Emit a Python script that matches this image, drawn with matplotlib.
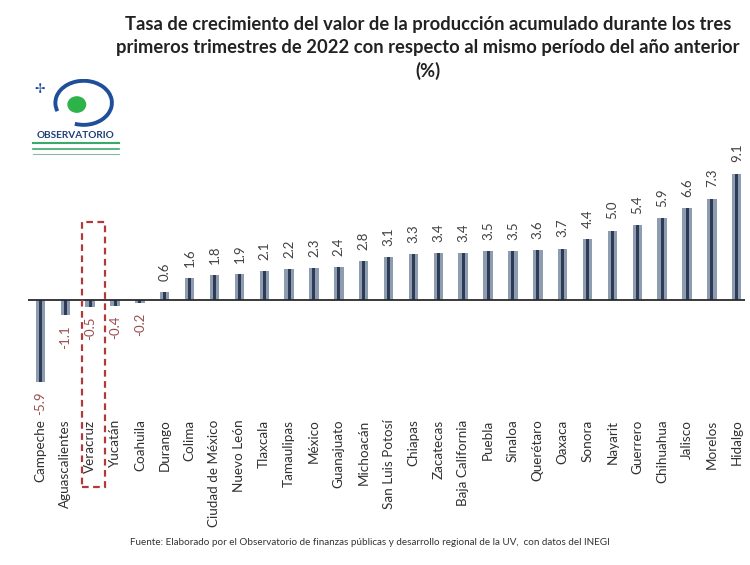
import matplotlib
matplotlib.use("Agg")
import matplotlib.pyplot as plt
from matplotlib.patches import Rectangle, Circle, Arc

plt.rcParams['font.family'] = ['Lato', 'DejaVu Sans']

states = ["Campeche", "Aguascalientes", "Veracruz", "Yucatán", "Coahuila", "Durango",
          "Colima", "Ciudad de México", "Nuevo León", "Tlaxcala", "Tamaulipas", "México",
          "Guanajuato", "Michoacán", "San Luis Potosí", "Chiapas", "Zacatecas",
          "Baja California", "Puebla", "Sinaloa", "Querétaro", "Oaxaca", "Sonora",
          "Nayarit", "Guerrero", "Chihuahua", "Jalisco", "Morelos", "Hidalgo"]
values = [-5.9, -1.1, -0.5, -0.4, -0.2, 0.6, 1.6, 1.8, 1.9, 2.1, 2.2, 2.3, 2.4, 2.8,
          3.1, 3.3, 3.4, 3.4, 3.5, 3.5, 3.6, 3.7, 4.4, 5.0, 5.4, 5.9, 6.6, 7.3, 9.1]
highlight = "Veracruz"

title = ("Tasa de crecimiento del valor de la producción acumulado durante los tres\n"
         "primeros trimestres de 2022 con respecto al mismo período del año anterior\n(%)")
source = ("Fuente: Elaborado por el Observatorio de finanzas públicas y desarrollo regional "
          "de la UV,  con datos del INEGI")

fig = plt.figure(figsize=(7.5, 5.65), dpi=100)
ax = fig.add_axes([0.0373, 0.2845, 0.956, 0.4206])
x = list(range(len(states)))

ax.bar(x, values, width=0.38, color="#8e9cb0", zorder=2)
ax.bar(x, values, width=0.12, color="#2d3b56", zorder=3)
ax.axhline(0, color="#2a2a2a", lw=1.3, zorder=4)

for xi, v in zip(x, values):
    if v >= 0:
        ax.annotate(f"{v:.1f}", (xi, v), xytext=(0, 8), textcoords="offset points",
                    rotation=90, ha="center", va="bottom", fontsize=9.5, color="#404040")
    else:
        ax.annotate(f"{v:.1f}", (xi, v), xytext=(0, -7), textcoords="offset points",
                    rotation=90, ha="center", va="top", fontsize=9.5, color="#9a4e4e")

ax.set_xlim(-0.5, 28.33)
ax.set_ylim(-7.5, 9.6)
ax.set_xticks(x)
ax.set_xticklabels(states, rotation=90, fontsize=9.7, color="#303030")
ax.tick_params(axis="x", length=0, pad=11)
ax.set_yticks([])
for s in ax.spines.values():
    s.set_visible(False)

hi = states.index(highlight)
ax.add_patch(Rectangle((hi - 0.32, -13.45), 0.92, 13.45 + 5.6, fill=False,
                       ec="#b03a3a", lw=1.6, ls=(0, (3, 2)), clip_on=False, zorder=5))

fig.text(0.571, 0.972, title, ha="center", va="top", fontsize=13.2, fontweight="bold",
         color="#222222", linespacing=1.42)
fig.text(0.493, 0.039, source, ha="center", va="center", fontsize=7.1, color="#333333")

# Logo
lax = fig.add_axes([0.04, 0.71, 0.13, 0.15])
lax.set_xlim(0, 100)
lax.set_ylim(0, 100)
lax.axis("off")
lax.add_patch(Arc((55, 72), 58, 52, theta1=-110, theta2=200, color="#1f4e9a", lw=2.8))
lax.add_patch(Circle((48, 70), 9, color="#2db34a"))
lax.text(10, 88, "✢", color="#1f4e9a", fontsize=9, ha="center", va="center",
         family="DejaVu Sans")
lax.text(47, 34, "OBSERVATORIO", color="#1f3f7a", fontsize=7.2, fontweight="bold",
         ha="center", va="center")
lax.plot([3, 91], [25, 25], color="#3aaa6a", lw=1.5)
lax.plot([3, 91], [18, 18], color="#3aaa6a", lw=1.2)
lax.plot([3, 91], [12, 12], color="#8ab8a0", lw=0.8)

fig.savefig("out.png", dpi=100)
